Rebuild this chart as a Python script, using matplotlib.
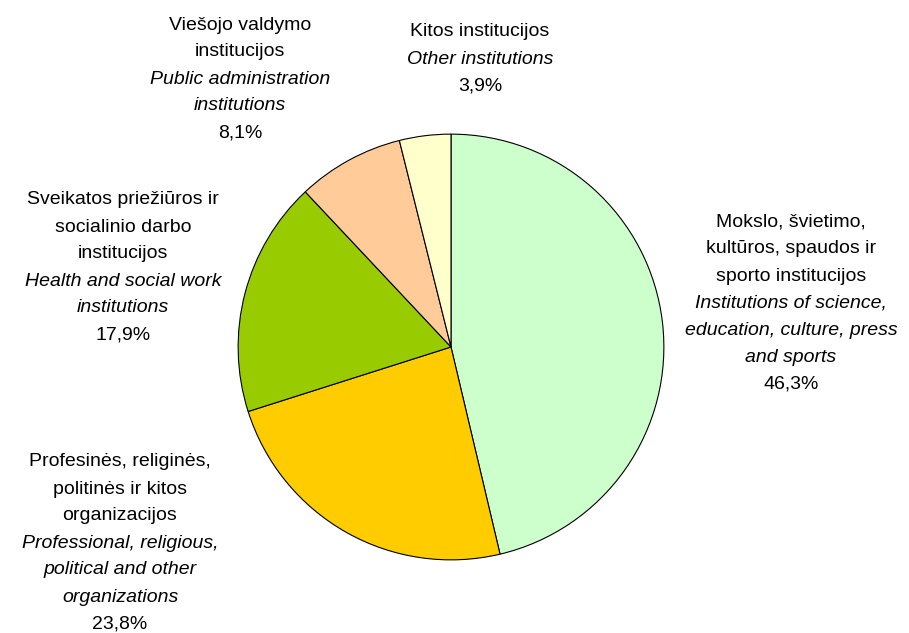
import matplotlib.pyplot as plt

plt.rcParams['font.family'] = ['Liberation Sans', 'DejaVu Sans']

# data, clockwise from the top
categories_lt = ['Mokslo, švietimo,\nkultūros, spaudos ir\nsporto institucijos',
                 'Profesinės, religinės,\npolitinės ir kitos\norganizacijos',
                 'Sveikatos priežiūros ir\nsocialinio darbo\ninstitucijos',
                 'Viešojo valdymo\ninstitucijos',
                 'Kitos institucijos']
categories_en = ['Institutions of science,\neducation, culture, press\nand sports',
                 'Professional, religious,\npolitical and other\norganizations',
                 'Health and social work\ninstitutions',
                 'Public administration\ninstitutions',
                 'Other institutions']
values = [46.3, 23.8, 17.9, 8.1, 3.9]
colors = ['#CCFFCC', '#FFCC00', '#99CC00', '#FFCC99', '#FFFFCC']

# label block anchors (pixels from top-left): x centre, y of first line
label_pos = [(791, 222), (120, 462), (123, 200), (240, 25), (480, 32)]
line_h = 27

W, H = 909, 633
fig = plt.figure(figsize=(W / 100, H / 100), dpi=100)
cx, cy, r = 451, 347, 215
ax = fig.add_axes([(cx - r) / W, (H - cy - r) / H, 2 * r / W, 2 * r / H])
ax.pie(values, colors=colors, startangle=90, counterclock=False,
       wedgeprops=dict(edgecolor='black', linewidth=0.8))
ax.set_xlim(-1.01, 1.01)
ax.set_ylim(-1.01, 1.01)
ax.set_aspect('equal')
ax.axis('off')

for lt, en, v, (x, y) in zip(categories_lt, categories_en, values, label_pos):
    lines = [(s, 'normal') for s in lt.split('\n')]
    lines += [(s, 'italic') for s in en.split('\n')]
    lines.append((f'{v:.1f}'.replace('.', ',') + '%', 'normal'))
    for i, (s, st) in enumerate(lines):
        fig.text(x / W, 1 - (y + i * line_h) / H, s, ha='center', va='center',
                 fontsize=14, style=st)

fig.savefig('out.png', dpi=100)
